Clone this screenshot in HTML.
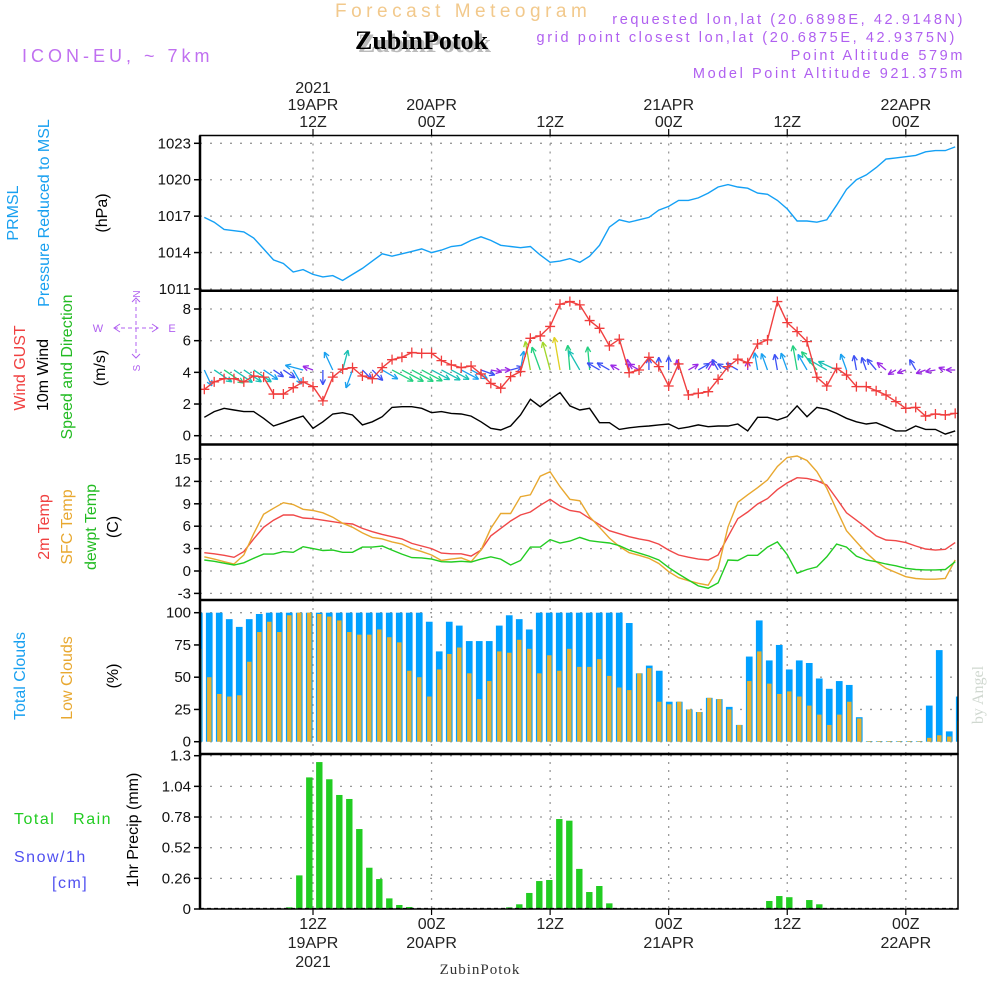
<!DOCTYPE html>
<html><head><meta charset="utf-8"><style>
html,body{margin:0;padding:0;background:#fff;}
svg{display:block;font-family:"Liberation Sans",sans-serif;}
</style></head><body>
<svg id="chart" width="1000" height="1000" viewBox="0 0 1000 1000" xmlns="http://www.w3.org/2000/svg">
<rect width="1000" height="1000" fill="#fff"/>
<text x="335" y="17" font-size="19" fill="#f2c98c" letter-spacing="4.5">Forecast Meteogram</text>
<text x="358" y="52" font-size="26" font-weight="bold" font-family="Liberation Serif, serif" fill="#bbb">ZubinPotok</text>
<text x="355" y="49" font-size="26" font-weight="bold" font-family="Liberation Serif, serif" fill="#000">ZubinPotok</text>
<text x="22" y="62" font-size="18" fill="#c070f0" letter-spacing="4">ICON-EU, ~ 7km</text>
<g font-size="14.5" fill="#b060f0" text-anchor="end" letter-spacing="2.6">
<text x="965" y="24">requested lon,lat (20.6898E, 42.9148N)</text>
<text x="957" y="42">grid point closest lon,lat (20.6875E, 42.9375N)</text>
<text x="965" y="60">Point Altitude 579m</text>
<text x="965" y="78">Model Point Altitude 921.375m</text>
</g>
<text x="480" y="974" font-size="15" font-family="Liberation Serif, serif" fill="#333" text-anchor="middle" letter-spacing="1">ZubinPotok</text>
<text transform="translate(983,695) rotate(-90)" font-size="16" font-family="Liberation Serif, serif" fill="#d0d8d0" text-anchor="middle">by Angel</text>
<g id="g"></g>
</svg>
<script>
const pressure=[1016.9,1016.5,1015.9,1015.8,1015.7,1015.2,1014.3,1013.4,1013.1,1012.4,1012.6,1012.2,1012.0,1012.1,1011.7,1012.2,1012.7,1013.3,1013.9,1013.7,1013.9,1014.1,1014.3,1014.0,1014.2,1014.5,1014.6,1015.0,1015.3,1015.0,1014.6,1014.5,1014.4,1014.5,1013.8,1013.2,1013.3,1013.5,1013.2,1013.7,1014.6,1016.1,1016.7,1016.5,1016.7,1016.9,1017.5,1017.8,1018.3,1018.3,1018.5,1018.9,1019.4,1019.6,1019.4,1019.3,1018.9,1018.8,1018.3,1017.6,1016.6,1016.6,1016.5,1016.7,1017.9,1019.2,1020.0,1020.4,1021.0,1021.7,1021.8,1021.9,1022.0,1022.3,1022.4,1022.4,1022.7];
const gust=[2.93,3.4,3.6,3.6,3.4,3.77,3.7,2.63,2.63,3.03,3.4,3.1,2.2,3.7,4.2,4.3,3.77,3.6,4.3,4.8,4.95,5.25,5.2,5.2,4.74,4.47,4.3,4.4,3.9,3.3,3.0,3.73,4.05,6.15,6.3,6.9,8.3,8.47,8.26,7.27,6.78,5.67,6.09,3.98,4.15,4.95,4.36,3.14,4.53,2.57,2.68,2.78,3.56,4.36,4.83,4.61,5.79,6.05,8.47,7.14,6.57,5.94,3.69,3.14,4.26,3.83,3.1,3.1,2.84,2.57,2.15,1.73,1.79,1.24,1.37,1.31,1.41];
const wind=[1.16,1.52,1.73,1.62,1.52,1.52,1.1,0.61,0.82,1.04,1.24,0.47,0.88,1.37,1.45,1.31,0.68,0.88,1.2,1.79,1.83,1.83,1.73,1.45,1.52,1.41,1.37,1.24,0.88,0.47,0.36,0.61,1.31,2.3,1.83,2.3,2.72,1.88,1.62,1.73,0.82,0.82,0.4,0.5,0.57,0.61,0.68,0.74,0.44,0.54,0.68,0.57,0.61,0.61,0.74,0.3,1.16,1.16,0.99,1.2,1.88,1.2,1.79,1.67,1.41,1.1,0.88,0.74,0.82,0.57,0.3,0.3,0.61,0.4,0.4,0.1,0.3];
const windDir=[65,34,34,34,34,34,34,34,34,60,195,200,90,-115,-75,110,45,45,30,28,28,28,28,28,28,28,28,28,20,10,0,-15,-80,-100,-110,-105,-100,-95,-120,-95,-150,-150,-150,-100,-150,-90,-90,-90,-100,-30,-30,-60,-120,-150,-150,-90,-100,-110,-100,-110,-100,-120,-130,-150,-155,-110,-100,-110,-130,-140,150,160,-120,160,170,-160,180];
const temp2m=[2.45,2.3,2.1,1.83,2.6,4.3,5.85,6.8,7.5,7.5,7.1,7.0,6.8,6.6,6.4,6.3,5.7,5.26,4.9,4.6,4.3,3.7,3.35,3.0,2.4,2.3,2.3,2.0,2.8,4.7,5.7,6.7,7.5,7.9,8.8,9.6,8.7,8.1,7.9,7.05,6.2,5.4,5.0,4.6,4.3,4.06,3.6,2.8,2.14,1.85,1.6,1.47,2.14,4.6,7.0,7.9,8.97,9.7,10.9,11.8,12.5,12.4,12.1,11.5,9.7,7.8,6.8,5.8,4.7,4.15,4.06,3.8,3.35,2.95,2.8,2.9,3.8];
const tempSfc=[1.9,1.6,1.25,0.94,2.14,5.0,7.6,8.4,9.15,8.9,8.26,8.1,7.8,7.2,6.4,5.85,5.1,4.5,4.3,3.9,3.6,3.0,2.6,2.14,1.4,1.6,1.75,1.25,2.8,5.7,7.7,7.7,9.95,10.2,12.7,13.3,11.3,9.6,9.4,7.27,5.85,4.4,3.3,2.45,2.1,1.7,1.0,-0.1,-0.9,-1.3,-1.65,-1.9,0.36,5.9,9.2,10.2,11.15,12.2,14.0,15.2,15.4,14.8,13.3,11.07,8.2,5.4,3.9,2.45,1.25,0.36,-0.2,-0.76,-1.0,-1.1,-1.1,-1.0,1.47];
const dewpt=[1.47,1.3,1.05,0.8,1.1,1.7,2.27,2.27,2.6,2.5,3.25,3.0,2.75,2.8,2.5,2.5,3.2,3.2,3.35,2.8,2.27,1.8,1.75,1.6,1.25,1.2,1.3,1.2,1.6,1.9,1.6,0.8,1.4,3.2,3.2,4.2,3.75,4.0,4.5,4.06,3.9,3.75,3.4,2.8,2.4,2.0,1.47,0.45,-0.4,-1.2,-2.0,-2.3,-1.6,1.47,1.4,2.1,2.1,3.2,3.9,2.2,-0.3,0.2,0.55,1.9,3.6,3.2,2.0,1.47,1.25,0.94,0.7,0.36,0.2,0.15,0.15,0.2,1.25];
const totalClouds=[100,100,100,95,89,95,99,100,100,100,100,100,100,100,100,100,100,100,100,100,100,100,100,93,70,93,90,78,78,78,90,98,95,87,100,100,100,100,100,100,100,100,100,92,53,59,55,31,31,25,23,34,33,27,13,66,94,63,75,56,63,61,49,41,47,44,19,0.5,0.5,0.5,0.5,0.5,0.5,28,71,8,35];
const lowClouds=[72,50,37,35,36,62,85,93,85,98,100,100,99,97,94,85,83,83,87,81,77,55,50,35,56,68,73,53,33,47,70,69,79,72,53,67,55,72,58,58,64,51,42,40,53,57,31,29,31,25,23,34,33,25,13,47,70,45,37,39,35,28,21,13,21,31,18,0.5,0.5,0.5,0.5,0.5,0.5,3,5,4,16];
const precip=[0,0,0,0,0,0,0,0,0,0.014,0.285,1.116,1.246,1.10,0.967,0.933,0.678,0.35,0.254,0.09,0.034,0.017,0.005,0,0,0,0,0,0,0,0,0.014,0.04,0.136,0.237,0.246,0.763,0.749,0.34,0.144,0.195,0.048,0.006,0,0,0,0,0,0,0,0,0,0,0,0,0,0,0.068,0.11,0.10,0.006,0.076,0.04,0,0,0,0,0,0,0,0,0,0,0,0,0,0];
const timeTicks=[12,24,36,48,60,72];
const timeTopLabels=[["2021","19APR","12Z"],["20APR","00Z"],["12Z"],["21APR","00Z"],["12Z"],["22APR","00Z"]];
const timeBottomLabels=[["12Z","19APR","2021"],["00Z","20APR"],["12Z"],["00Z","21APR"],["12Z"],["00Z","22APR"]];
const pTicks=[1011,1014,1017,1020,1023];
const wTicks=[0,2,4,6,8];
const tTicks=[-3,0,3,6,9,12,15];
const cTicks=[0,25,50,75,100];
const rTicks=[0,0.26,0.52,0.78,1.04,1.3];
const rTickLabels=["0","0.26","0.52","0.78","1.04","1.3"];

const NS="http://www.w3.org/2000/svg";
const G=document.getElementById('g');
const L=200,R=958;
function mk(tag,attrs,parent){const e=document.createElementNS(NS,tag);for(const k in attrs)e.setAttribute(k,attrs[k]);(parent||G).appendChild(e);return e;}
const xT=h=>313+(h-12)*9.88;
const xB=i=>199.3+10*i;
const lin=(v0,y0,v1,y1)=>v=>y0+(v-v0)*(y1-y0)/(v1-v0);
const yP=lin(1023,143.3,1011,289), yW=lin(8,309,0,435.7), yT=lin(15,459,-3,593.4), yC=lin(100,612.7,0,741.7), yR=lin(1.3,755.7,0,909);
const panels=[[135.5,290.7,pTicks,yP,null,'pressure'],[290.7,444.5,wTicks,yW,null,'wind'],[444.5,600,tTicks,yT,null,'temperature'],[600,754,cTicks,yC,null,'clouds'],[754,909,rTicks,yR,rTickLabels,'precip']];
const defs=mk('defs',{});
panels.forEach((p,k)=>{const cp=mk('clipPath',{id:'cp'+k},defs);mk('rect',{x:L,y:p[0],width:R-L,height:p[1]-p[0]},cp);});

panels.forEach((p,k)=>{
  const grp=mk('g',{});
  
  
  p[2].forEach((v,j)=>{
    const y=p[3](v);
    const gl=mk('line',{x1:L,x2:R,y1:y,y2:y,stroke:'#999','stroke-width':1.3,'stroke-dasharray':'2,8'},grp);
    
    
    mk('line',{x1:L-6,x2:L,y1:y,y2:y,stroke:'#000','stroke-width':1.5},grp);
    const t=mk('text',{x:L-9,y:y+5,'font-size':15,'text-anchor':'end',fill:'#111'},grp);
    
    
    t.textContent=p[4]?p[4][j]:String(v);
  });
  timeTicks.forEach(h=>{mk('line',{x1:xT(h),x2:xT(h),y1:p[0],y2:p[1],stroke:'#999','stroke-width':1.3,'stroke-dasharray':'2,6'},grp);});
});

function polyline(vals,ys,color,k,name){
  const pts=vals.map((v,i)=>xT(i+1).toFixed(1)+','+ys(v).toFixed(1)).join(' ');
  const e=mk('polyline',{points:pts,fill:'none',stroke:color,'stroke-width':1.4,'clip-path':'url(#cp'+k+')'});
  
  
  return e;
}
polyline(pressure,yP,'#14a0f5',0,'pressure-line');
function arrowColor(s){if(s<0.6)return'#9a28e6';if(s<1.0)return'#3c50f5';if(s<1.4)return'#18a0f0';if(s<1.7)return'#18c0b4';if(s<2.0)return'#22d080';if(s<2.5)return'#a0d628';return'#e0d020';}
const ag=mk('g',{'clip-path':'url(#cp1)'});


windDir.forEach((d,i)=>{
  const s=wind[i],len=6+10*s,a=d*Math.PI/180,x0=xT(i+1),y0=yW(4.15);
  const x1=x0+len*Math.cos(a),y1=y0+len*Math.sin(a),c=arrowColor(s);
  const g=mk('g',{stroke:c,'stroke-width':1.3,fill:'none'},ag);
  
  
  mk('line',{x1:x0,y1:y0,x2:x1,y2:y1},g);
  [-1,1].forEach(sg=>{const b=a+Math.PI+sg*0.45;mk('line',{x1:x1,y1:y1,x2:x1+6*Math.cos(b),y2:y1+6*Math.sin(b)},g);});
});
polyline(wind,yW,'#000',1,'wind-speed-line');
polyline(gust,yW,'#f04040',1,'wind-gust-line');
const gm=mk('g',{stroke:'#f03c3c','stroke-width':1.3,'clip-path':'url(#cp1)'});


gust.forEach((v,i)=>{const x=xT(i+1),y=yW(v);mk('path',{d:`M${x-5},${y}H${x+5}M${x},${y-5}V${y+5}`},gm);});
polyline(temp2m,yT,'#f04848',2,'temp-2m-line');
polyline(tempSfc,yT,'#e8a830',2,'temp-sfc-line');
polyline(dewpt,yT,'#22cc22',2,'dewpoint-line');
const cg=mk('g',{'clip-path':'url(#cp3)'});


totalClouds.forEach((v,i)=>{
  const x=xB(i),y=yC(v);
  const b=mk('rect',{x:x-3.4,y:y,width:6.7,height:yC(0)-y,fill:'#00a0ff'},cg);
  
  
  const yl=yC(lowClouds[i]);
  const lb=mk('rect',{x:x-2.2,y:yl,width:4.4,height:yC(0)-yl,fill:'#e6b030'},cg);
  
  
});
const rg=mk('g',{'clip-path':'url(#cp4)'});


precip.forEach((v,i)=>{
  if(v<=0)return;
  const x=xB(i),y=yR(v);
  const b=mk('rect',{x:x-3.2,y:y,width:6.4,height:yR(0)-y,fill:'#22cc22'},rg);
  
  
});
mk('line',{x1:L,x2:R,y1:yR(0)-0.5,y2:yR(0)-0.5,stroke:'#000','stroke-width':1.2,'stroke-dasharray':'4,3'});
panels.forEach((p,k)=>{
  const f=mk('rect',{x:L,y:p[0],width:R-L,height:p[1]-p[0],fill:'none',stroke:'#000','stroke-width':1.5});
  
  
});
[290.7,444.5,600,754].forEach(y=>mk('line',{x1:L,x2:R,y1:y,y2:y,stroke:'#000','stroke-width':2.5}));
mk('line',{x1:L,x2:L,y1:135.5,y2:909,stroke:'#000','stroke-width':2.5});
timeTicks.forEach((h,j)=>{
  const x=xT(h);
  mk('line',{x1:x,x2:x,y1:129,y2:135.5,stroke:'#000','stroke-width':1.2});
  mk('line',{x1:x,x2:x,y1:909,y2:915,stroke:'#000','stroke-width':1.2});
  const top=timeTopLabels[j];
  top.forEach((s,m)=>{const t=mk('text',{x:x,y:127-(top.length-1-m)*17,'font-size':16,'text-anchor':'middle',fill:'#222'});
    
    
    t.textContent=s;});
  timeBottomLabels[j].forEach((s,m)=>{const t=mk('text',{x:x,y:929+m*19,'font-size':16,'text-anchor':'middle',fill:'#222'});
    
    
    t.textContent=s;});
});
const side=[["PRMSL",18,213,'#18a0f0'],["Pressure Reduced to MSL",49,213,'#18a0f0'],["(hPa)",107,213,'#000'],
["Wind GUST",25,368,'#f04040'],["10m Wind",48,375,'#000'],["Speed and Direction",72,367,'#22bb22'],["(m/s)",105,368,'#000'],
["2m Temp",49,527,'#f04040'],["SFC Temp",72,527,'#e8a830'],["dewpt Temp",96,527,'#22bb22'],["(C)",118,527,'#000'],
["Total Clouds",25,676,'#18a0f0'],["Low Clouds",72,678,'#e8a830'],["(%)",118,676,'#000'],
["1hr Precip (mm)",138,830,'#000']];
side.forEach(s=>{const t=mk('text',{transform:`translate(${s[1]},${s[2]}) rotate(-90)`,'font-size':16,'text-anchor':'middle',fill:s[3]});
  
  
  t.textContent=s[0];});
[["Total   Rain",14,824,'#22cc22'],["Snow/1h",14,862,'#5050f0'],["[cm]",52,888,'#5050f0']].forEach(s=>{
  const t=mk('text',{x:s[1],y:s[2],'font-size':16,fill:s[3],'letter-spacing':1.5,'xml:space':'preserve'});
  
  
  t.style.whiteSpace='pre';
  t.textContent=s[0];});
const cmp=mk('g',{fill:'#b060f0','font-size':11,'text-anchor':'middle'});


[["W",98,332],["E",172,332]].forEach(s=>{const t=mk('text',{x:s[1],y:s[2]},cmp);t.textContent=s[0];});
mk('line',{x1:114,x2:158,y1:328,y2:328,stroke:'#b060f0','stroke-width':1,'stroke-dasharray':'4,3'},cmp);
mk('path',{d:'M120,324L114,328L120,332M152,324L158,328L152,332M132,302L136,298L140,302M132,354L136,358L140,354',stroke:'#b060f0','stroke-width':1,fill:'none'},cmp);
mk('line',{x1:136,x2:136,y1:300,y2:356,stroke:'#b060f0','stroke-width':1,'stroke-dasharray':'4,3'},cmp);
[["N",136,294],["S",136,368]].forEach(s=>{const t=mk('text',{transform:`translate(${s[1]+4},${s[2]}) rotate(-90)`,'font-size':10},cmp);t.textContent=s[0];});
</script>
</body></html>
